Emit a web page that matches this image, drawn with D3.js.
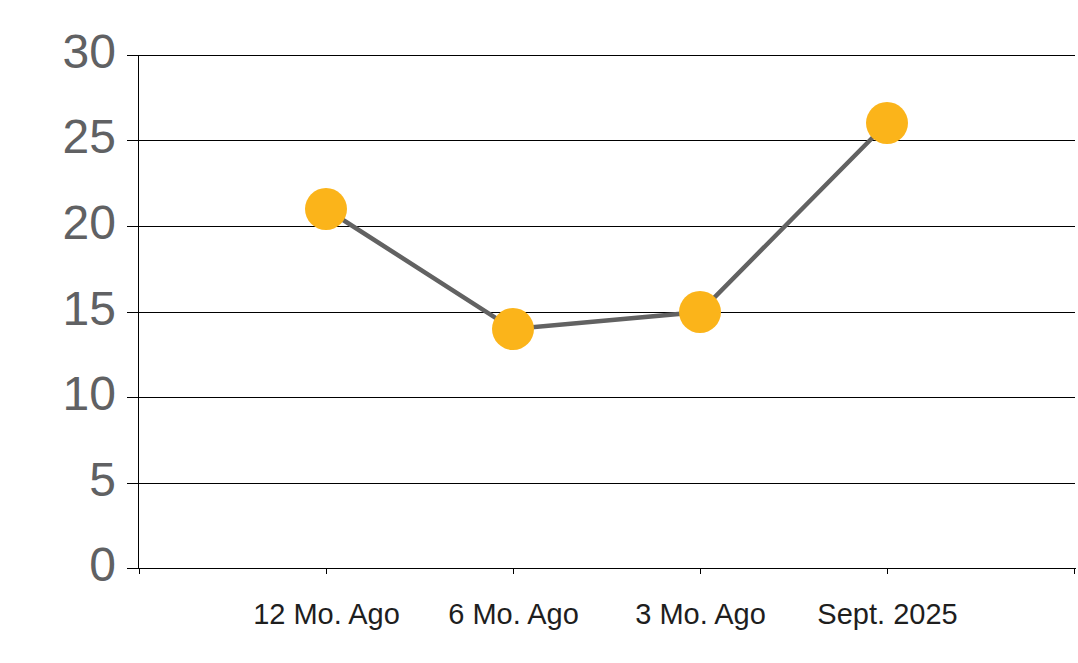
<!DOCTYPE html>
<html>
<head>
<meta charset="utf-8">
<script src="https://cdn.jsdelivr.net/npm/d3@7"></script>
<style>
  html, body { margin: 0; padding: 0; background: #fff; }
  svg { display: block; }
</style>
</head>
<body>
<svg id="chart" width="1078" height="663"></svg>
<script>
const categories = ["12 Mo. Ago", "6 Mo. Ago", "3 Mo. Ago", "Sept. 2025"];
const values = [21, 14, 15, 26];
const yTicks = [0, 5, 10, 15, 20, 25, 30];

(function () {
const svg = d3.select("#chart");
const mLeft = 138, mRight = 1075, mTop = 55, mBottom = 568;

const slots = ["__start", ...categories, "__end"];
const x = d3.scalePoint().domain(slots).range([mLeft, mRight]).padding(0).round(true);
const y = d3.scaleLinear().domain([0, 30]).rangeRound([mBottom, mTop]);

// gridlines + y labels
const yAxis = d3.axisLeft(y).tickValues(yTicks).tickSize(mRight - 127).tickPadding(10).tickFormat(d3.format("d")).offset(0.5);
const gy = svg.append("g").attr("transform", `translate(${mRight},0)`).call(yAxis);
gy.select(".domain").remove();
gy.selectAll(".tick line").attr("stroke", "#000").attr("stroke-width", 1);
gy.selectAll(".tick text")
  .attr("fill", "#606163")
  .attr("font-family", "'Liberation Sans', Arial, sans-serif")
  .attr("font-size", 48)
  .attr("dy", "0.26em")
  .attr("x", -(mRight - 116));

// vertical axis line
svg.append("line").attr("x1", mLeft + 0.5).attr("x2", mLeft + 0.5).attr("y1", mTop).attr("y2", mBottom + 1).attr("stroke", "#000").attr("stroke-width", 1);

// x axis
const xAxis = d3.axisBottom(x).tickSize(6).tickPadding(25).offset(0.5).tickFormat(d => d.startsWith("__") ? "" : d);
const gx = svg.append("g").attr("transform", `translate(0,${mBottom})`).call(xAxis);
gx.select(".domain").attr("stroke", "#000").attr("d", `M${mLeft},0.5H${mRight + 1}`);
gx.selectAll(".tick line").attr("stroke", "#000");
gx.selectAll(".tick text")
  .attr("fill", "#1e1e1e")
  .attr("font-family", "'Liberation Sans', Arial, sans-serif")
  .attr("font-size", 29)
  .attr("dy", "0.85em");

const data = categories.map((c, i) => ({ c, v: values[i] }));

const line = d3.line().x(d => x(d.c)).y(d => y(d.v));
svg.append("path").datum(data).attr("d", line)
  .attr("fill", "none").attr("stroke", "#626262").attr("stroke-width", 4.5);

svg.selectAll("circle.pt").data(data).enter().append("circle")
  .attr("class", "pt")
  .attr("cx", d => x(d.c)).attr("cy", d => y(d.v)).attr("r", 21)
  .attr("fill", "#FBB41A");
})();
</script>
</body>
</html>
